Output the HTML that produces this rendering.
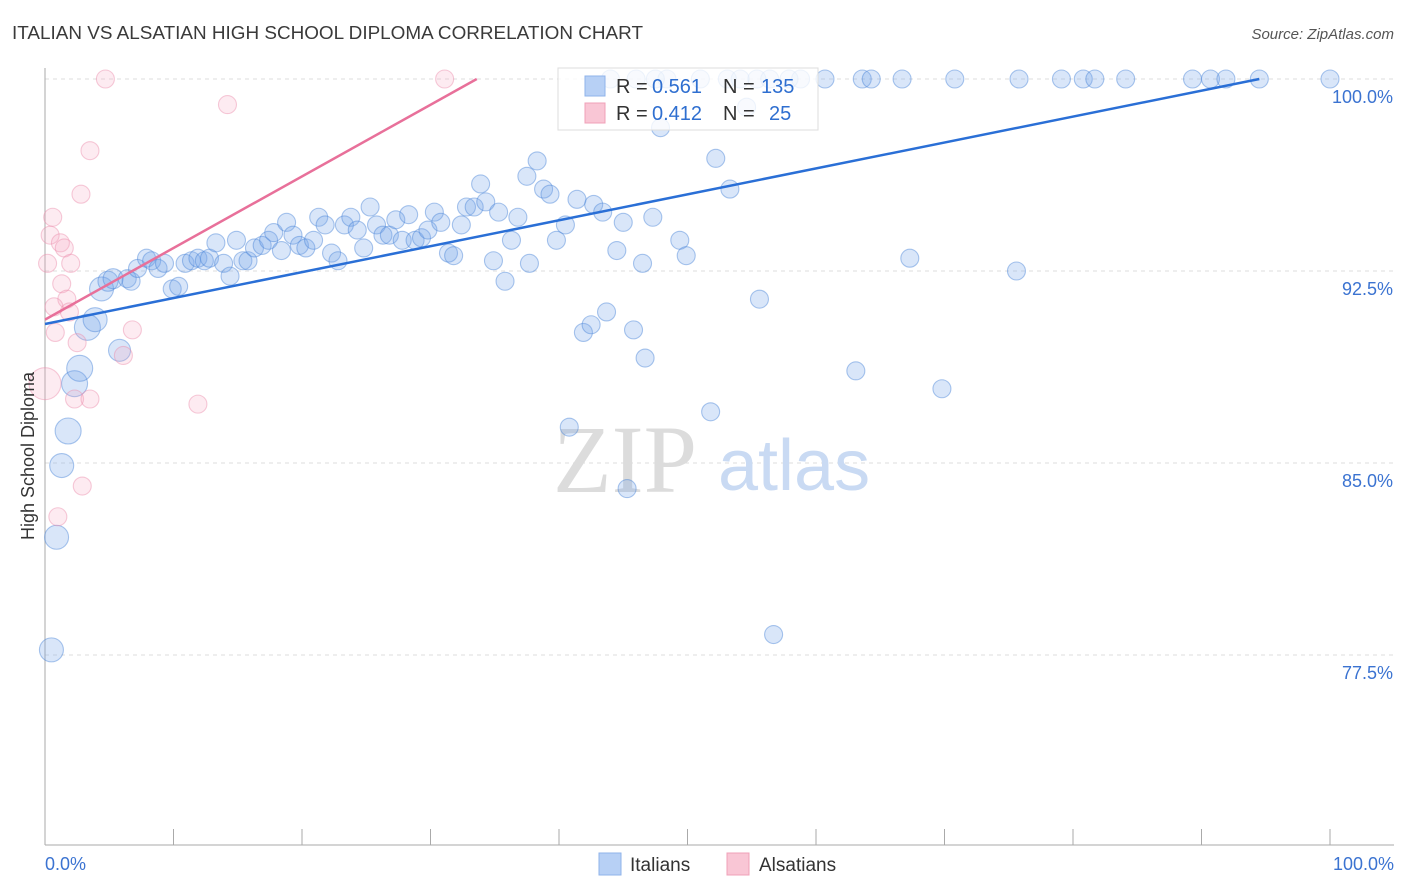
<!DOCTYPE html>
<html><head><meta charset="utf-8">
<style>
body{margin:0;background:#fff;font-family:"Liberation Sans",sans-serif;}
svg{display:block}
</style></head>
<body>
<svg id="chart" width="1406" height="892" xmlns="http://www.w3.org/2000/svg">
<text x="12" y="39" font-size="18" fill="#3a3a3a" textLength="631" lengthAdjust="spacingAndGlyphs" font-family="Liberation Sans, sans-serif">ITALIAN VS ALSATIAN HIGH SCHOOL DIPLOMA CORRELATION CHART</text>
<text x="1394" y="39" font-size="15" fill="#555" text-anchor="end" font-style="italic">Source: ZipAtlas.com</text>
<g id="grid"></g>
<g>
<text x="553" y="492" font-size="96" fill="#dcdcdc" font-family="Liberation Serif, serif">ZIP</text>
<text x="718" y="490" font-size="72" fill="#c9daf3">atlas</text>
</g>
<g id="axes"></g>
<g id="pts"></g>
<g id="lines"></g>
<text transform="translate(34,456) rotate(-90)" font-size="18" fill="#333" text-anchor="middle">High School Diploma</text>
<g font-size="20">
<rect x="558" y="68" width="260" height="62" fill="#fff" fill-opacity="0.8" stroke="#ddd"/>
<rect x="585" y="76" width="20" height="20" fill="#b7d0f5" stroke="#8fb3ea"/>
<rect x="585" y="103" width="20" height="20" fill="#f9c6d5" stroke="#f0a0b8"/>
<text x="616" y="93" fill="#333">R =</text><text x="652" y="93" fill="#2f6fd0">0.561</text>
<text x="723" y="93" fill="#333">N =</text><text x="761" y="93" fill="#2f6fd0">135</text>
<text x="616" y="120" fill="#333">R =</text><text x="652" y="120" fill="#2f6fd0">0.412</text>
<text x="723" y="120" fill="#333">N =</text><text x="769" y="120" fill="#2f6fd0">25</text>
</g>
<g>
<rect x="599" y="853" width="22" height="22" fill="#b7d0f5" stroke="#8fb3ea"/>
<text x="630" y="871" font-size="19" fill="#333">Italians</text>
<rect x="727" y="853" width="22" height="22" fill="#f9c6d5" stroke="#f0a0b8"/>
<text x="759" y="871" font-size="19" fill="#333">Alsatians</text>
</g>
</svg>
<script>
const blueX=[0.5,0.9,1.3,1.8,2.3,2.7,3.3,3.9,4.4,4.9,5.3,5.8,6.4,6.7,7.2,7.9,8.3,8.8,9.3,9.9,10.4,10.9,11.4,11.9,12.4,12.8,13.3,13.9,14.4,14.9,15.4,15.8,16.3,16.9,17.4,17.8,18.4,18.8,19.3,19.8,20.3,20.9,21.3,21.8,22.3,22.8,23.3,23.8,24.3,24.8,25.3,25.8,26.3,26.8,27.3,27.8,28.3,28.8,29.3,29.8,30.3,30.8,31.4,31.8,32.4,32.8,33.4,33.9,34.3,34.9,35.3,35.8,36.3,36.8,37.7,37.5,38.3,38.8,39.3,39.8,40.5,40.8,41.4,41.9,42.5,42.7,43.4,43.7,44.5,45.0,45.3,45.8,46.5,46.7,47.3,47.9,49.4,49.9,51.8,52.2,53.3,54.6,55.6,56.7,63.1,67.3,69.8,75.6,
48.4,51.0,53.1,54.1,55.4,56.4,57.9,58.8,60.7,63.6,64.3,66.7,70.8,75.8,79.1,80.8,81.7,84.1,89.3,90.7,91.9,94.5,100.0,44.0,46.0,47.5];
const blueY=[77.7,82.1,84.9,86.25,88.1,88.7,90.3,90.6,91.8,92.1,92.2,89.4,92.2,92.1,92.6,93.0,92.9,92.6,92.8,91.8,91.9,92.8,92.9,93.0,92.9,93.0,93.6,92.8,92.3,93.7,92.9,92.9,93.4,93.5,93.7,94.0,93.3,94.4,93.9,93.5,93.4,93.7,94.6,94.3,93.2,92.9,94.3,94.6,94.1,93.4,95.0,94.3,93.9,93.9,94.5,93.7,94.7,93.7,93.8,94.1,94.8,94.4,93.2,93.1,94.3,95.0,95.0,95.9,95.2,92.9,94.8,92.1,93.7,94.6,92.8,96.2,96.8,95.7,95.5,93.7,94.3,86.4,95.3,90.1,90.4,95.1,94.8,90.9,93.3,94.4,84.0,90.2,92.8,89.1,94.6,98.1,93.7,93.1,87.0,96.9,95.7,98.9,91.4,78.3,88.6,93.0,87.9,92.5,
100,100,100,100,100,100,100,100,100,100,100,100,100,100,100,100,100,100,100,100,100,100,100,100,100,100];
const blueSize=[12,12,12,13,13,13,13,12,12,10,10,11];
const pinkX=[4.7,31.1,14.2,3.5,2.8,0.6,0.4,1.2,1.5,0.2,2.0,1.3,1.7,0.7,1.9,0.8,6.8,2.5,6.1,0,2.3,3.5,11.9,2.9,1.0];
const pinkY=[100,100,99.0,97.2,95.5,94.6,93.9,93.6,93.4,92.8,92.8,92.0,91.4,91.1,90.9,90.1,90.2,89.7,89.2,88.1,87.5,87.5,87.3,84.1,82.9];
const blueTrendX=[0,94.5], blueTrendY=[90.43,100];
const pinkTrendX=[0,33.6], pinkTrendY=[90.6,100];
const yTicks=[100,92.5,85,77.5];
const yTickLabels=["100.0%","92.5%","85.0%","77.5%"];
const xTicks=[0,10,20,30,40,50,60,70,80,90,100];

const NS="http://www.w3.org/2000/svg";
const X=v=>45+v*12.85, Y=v=>79+(100-v)*25.6;
function mk(t,a,p){const e=document.createElementNS(NS,t);for(const k in a)e.setAttribute(k,a[k]);p.appendChild(e);return e;}
const grid=document.getElementById('grid'),axes=document.getElementById('axes'),pts=document.getElementById('pts'),lines=document.getElementById('lines');
yTicks.forEach((t,i)=>{
 const l=mk('line',{x1:45,x2:1394,y1:Y(t),y2:Y(t),stroke:'#dedede','stroke-dasharray':'4,4'},grid);
 
 
 const tx=mk('text',{x:1393,y:Y(t)+24,'font-size':18,fill:'#3b73d1','text-anchor':'end'},axes);
 tx.textContent=yTickLabels[i];
 
 
});
const ya=mk('line',{x1:45,x2:45,y1:68,y2:845,stroke:'#aaa'},axes);


const xa=mk('line',{x1:45,x2:1394,y1:845,y2:845,stroke:'#aaa'},axes);


xTicks.forEach(t=>{
 const l=mk('line',{x1:X(t),x2:X(t),y1:829,y2:845,stroke:'#aaa'},axes);
 
 
});
[[0,'0.0%','start',45],[100,'100.0%','end',1394]].forEach(a=>{
 const tx=mk('text',{x:a[3],y:870,'font-size':18,fill:'#3b73d1','text-anchor':a[2]},axes);
 tx.textContent=a[1];
 
 
});
blueX.forEach((v,i)=>{
 const r=i<blueSize.length?blueSize[i]:9;
 const c=mk('circle',{cx:X(v),cy:Y(blueY[i]),r:r,fill:'rgba(120,165,235,0.28)',stroke:'rgba(70,130,215,0.45)','stroke-width':1.1},pts);
 
 
});
pinkX.forEach((v,i)=>{
 const c=mk('circle',{cx:X(v),cy:Y(pinkY[i]),r:v===0?16:9,fill:'rgba(245,165,190,0.22)',stroke:'rgba(235,140,170,0.45)','stroke-width':1.1},pts);
 
 
});
const bl=mk('line',{x1:X(blueTrendX[0]),y1:Y(blueTrendY[0]),x2:X(blueTrendX[1]),y2:Y(blueTrendY[1]),stroke:'#2a6fd6','stroke-width':2.5},lines);


const pl=mk('line',{x1:X(pinkTrendX[0]),y1:Y(pinkTrendY[0]),x2:X(pinkTrendX[1]),y2:Y(pinkTrendY[1]),stroke:'#e8709a','stroke-width':2.5},lines);


</script>
</body></html>
